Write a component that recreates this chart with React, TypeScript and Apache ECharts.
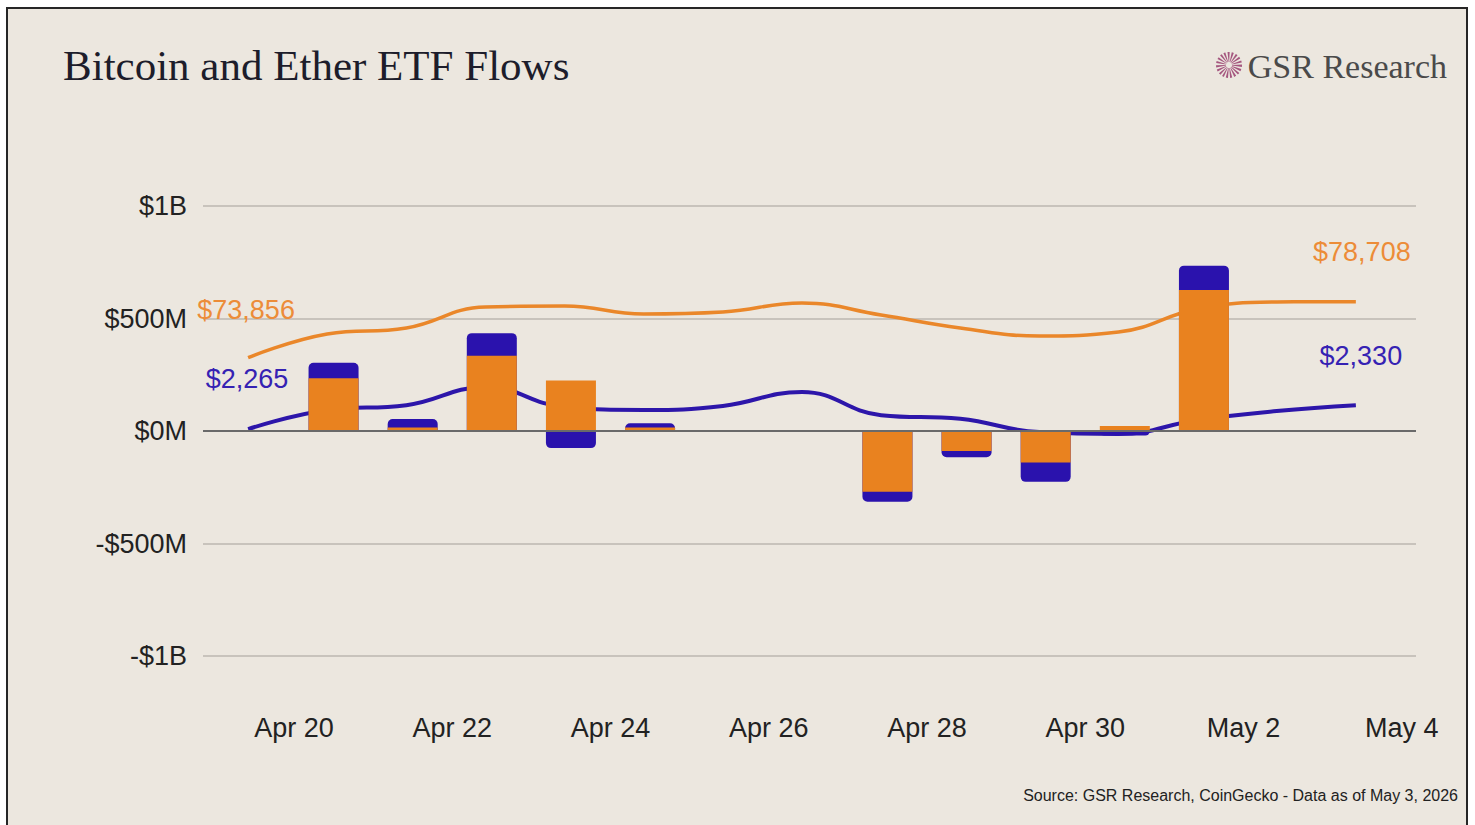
import React, { useEffect, useRef } from "react";
import * as echarts from "echarts";

// ---- data ----
// day offsets counted from Apr 20, 2026
const barDays = [0, 1, 2, 3, 4, 7, 8, 9, 10, 11];
const barDates = ["Apr 20", "Apr 21", "Apr 22", "Apr 23", "Apr 24", "Apr 27", "Apr 28", "Apr 29", "Apr 30", "May 1"];
const btcFlows = [234, 16, 335, 224, 16, -270, -89, -140, 22, 627]; // $M
const ethFlows = [69, 37, 100, -76, 18, -44, -28, -86, -20, 108]; // $M

const priceDays = [-1, 0, 1, 2, 3, 4, 5, 6, 7, 8, 9, 10, 11, 12, 13];
const btcPrice = [73856, 75907, 76428, 78248, 78333, 77640, 77813, 78593, 77553, 76428, 75733, 76080, 78073, 78680, 78708];
const ethPrice = [2265, 2317, 2330, 2379, 2325, 2317, 2328, 2366, 2303, 2293, 2257, 2252, 2290, 2314, 2330];

const xTickDays = [0, 2, 4, 6, 8, 10, 12, 14];
const xTickLabels = ["Apr 20", "Apr 22", "Apr 24", "Apr 26", "Apr 28", "Apr 30", "May 2", "May 4"];
const yTicks = [-1000, -500, 0, 500, 1000];
const yTickLabels = ["-$1B", "-$500M", "$0M", "$500M", "$1B"];

const ORANGE = "#e9821f";
const BLUE = "#2a12ad";
const SANS = "'Liberation Sans', Arial, Helvetica, sans-serif";
const SERIF = "'Liberation Serif', 'Times New Roman', serif";

const BAR_OFFSET = 0.5;
const PRICE_OFFSET = 0.42;

function fmtPrice(v: number) {
  return "$" + v.toLocaleString("en-US");
}

function priceData(values: number[], offsets: [number[], number[]], color: string) {
  const last = values.length - 1;
  return values.map((v, i) => {
    const x = priceDays[i] + PRICE_OFFSET;
    if (i === 0 || i === last) {
      return {
        value: [x, v],
        label: {
          show: true,
          position: "inside",
          offset: i === 0 ? offsets[0] : offsets[1],
          formatter: fmtPrice(v),
          color,
          fontSize: 27,
          fontFamily: SANS,
        },
      };
    }
    return { value: [x, v] };
  });
}

// ETH segment sits on top of the BTC segment when both have the same sign
// (drawn as the cumulative bar behind the BTC bar), otherwise it starts at zero.
const ethStackTop = ethFlows.map((v, i) => (Math.sign(v) === Math.sign(btcFlows[i]) ? v + btcFlows[i] : v));

export default function App() {
  const ref = useRef<HTMLDivElement>(null);

  useEffect(() => {
    document.body.style.margin = "0";
    if (!ref.current) return;
    const chart = echarts.init(ref.current, null, { renderer: "svg" });

    const option: any = {
      animation: false,
      backgroundColor: "transparent",
      grid: { left: 203, right: 59, top: 206, bottom: 169, containLabel: false },
      xAxis: {
        type: "value",
        min: -1.15,
        max: 14.18,
        axisLine: { show: false },
        axisTick: { show: false },
        splitLine: { show: false },
        axisLabel: {
          customValues: xTickDays,
          formatter: (v: number) => {
            const i = xTickDays.indexOf(Math.round(v));
            return i >= 0 ? xTickLabels[i] : "";
          },
          margin: 58,
          fontSize: 27,
          color: "#222",
          fontFamily: SANS,
        },
      },
      yAxis: [
        {
          type: "value",
          min: -1000,
          max: 1000,
          interval: 500,
          axisLine: { show: false },
          axisTick: { show: false },
          splitLine: { show: true, lineStyle: { color: "#bcb7b0", width: 1.5 } },
          axisLabel: {
            formatter: (v: number) => {
              const i = yTicks.indexOf(v);
              return i >= 0 ? yTickLabels[i] : "";
            },
            margin: 16,
            fontSize: 27,
            color: "#222",
            fontFamily: SANS,
          },
        },
        { type: "value", min: 48000, max: 87000, show: false, splitLine: { show: false } },
        { type: "value", min: 1650, max: 2870, show: false, splitLine: { show: false } },
      ],
      series: [
        {
          name: "BTC price",
          type: "line",
          yAxisIndex: 1,
          smooth: 0.45,
          symbol: "circle",
          symbolSize: 0.01,
          showSymbol: true,
          itemStyle: { color: ORANGE },
          lineStyle: { color: "#ea872a", width: 3.5 },
          z: 1,
          data: priceData(btcPrice, [[-2, -48], [6, -50]], "#ec8c38"),
        },
        {
          name: "ETH price",
          type: "line",
          yAxisIndex: 2,
          smooth: 0.45,
          symbol: "circle",
          symbolSize: 0.01,
          showSymbol: true,
          itemStyle: { color: BLUE },
          lineStyle: { color: "#2d16aa", width: 4 },
          z: 1,
          data: priceData(ethPrice, [[-1, -50], [5, -49]], "#3522b3"),
        },
        {
          name: "ETH ETF flows",
          type: "bar",
          barWidth: 50,
          barGap: "-100%",
          z: 3,
          data: ethStackTop.map((v, i) => ({
            value: [barDays[i] + BAR_OFFSET, v],
            name: barDates[i],
            itemStyle: { color: BLUE, borderRadius: v >= 0 ? [5, 5, 0, 0] : [0, 0, 5, 5] },
          })),
        },
        {
          name: "BTC ETF flows",
          type: "bar",
          barWidth: 50,
          barGap: "-100%",
          z: 4,
          itemStyle: { color: ORANGE },
          data: btcFlows.map((v, i) => ({ value: [barDays[i] + BAR_OFFSET, v], name: barDates[i] })),
          markLine: {
            silent: true,
            symbol: ["none", "none"],
            label: { show: false },
            lineStyle: { color: "#6a6a6a", width: 2, type: "solid" },
            data: [{ yAxis: 0 }],
          },
        },
      ],
      graphic: [
        {
          type: "text",
          left: 63,
          top: 44,
          style: {
            text: "Bitcoin and Ether ETF Flows",
            fontSize: 43,
            fontFamily: SERIF,
            fill: "#1d1d2b",
          },
        },
        {
          type: "circle",
          shape: { cx: 1229, cy: 65, r: 8 },
          style: { fill: null, stroke: "#a5577f", lineWidth: 10, lineDash: [1.3, 1.3] },
        },
        {
          type: "text",
          x: 1447,
          y: 66,
          style: {
            text: "GSR Research",
            fontSize: 34,
            fontFamily: SERIF,
            fill: "#4a4a4a",
            align: "right",
            verticalAlign: "middle",
          },
        },
        {
          type: "text",
          x: 1458,
          y: 795,
          style: {
            text: "Source: GSR Research, CoinGecko - Data as of May 3, 2026",
            fontSize: 16,
            fontFamily: SANS,
            fill: "#222",
            align: "right",
            verticalAlign: "middle",
          },
        },
      ],
    };

    chart.setOption(option);
    return () => chart.dispose();
  }, []);

  return (
    <div style={{ position: "relative", width: 1475, height: 825, background: "#ffffff", overflow: "hidden" }}>
      <div
        style={{
          position: "absolute",
          left: 6,
          top: 7,
          width: 1462,
          height: 818,
          background: "#ece7df",
          border: "2px solid #262626",
          borderBottom: "none",
          boxSizing: "border-box",
        }}
      />
      <div ref={ref} style={{ position: "absolute", left: 0, top: 0, width: 1475, height: 825 }} />
    </div>
  );
}
